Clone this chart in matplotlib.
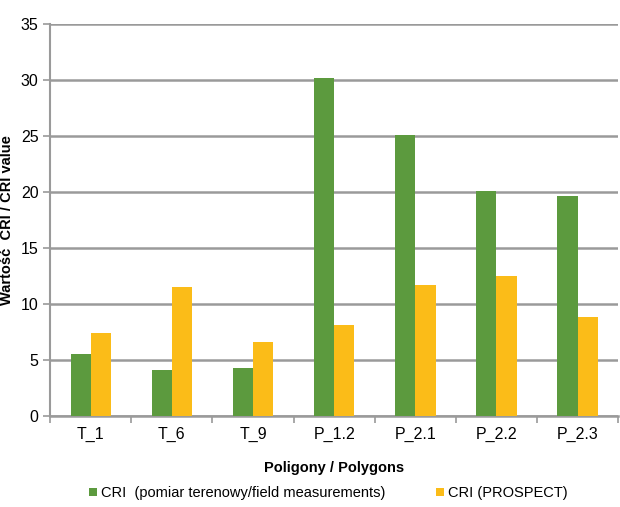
import matplotlib.pyplot as plt
import numpy as np

plt.rcParams['font.family'] = ['Liberation Sans', 'DejaVu Sans']

# Dane
polygons = ['T_1', 'T_6', 'T_9', 'P_1.2', 'P_2.1', 'P_2.2', 'P_2.3']
cri_field = [5.5, 4.1, 4.3, 30.2, 25.1, 20.1, 19.6]
cri_prospect = [7.4, 11.5, 6.6, 8.1, 11.7, 12.5, 8.8]
y_ticks = [0, 5, 10, 15, 20, 25, 30, 35]

green = '#5c9a3e'
yellow = '#fbbc18'
grid_col = '#9a9a9a'

fig = plt.figure(figsize=(6.2, 5.07), dpi=100)
ax = fig.add_axes([0.081, 0.18, 0.916, 0.773])

x = np.arange(len(polygons))
w = 0.25
ax.bar(x - w / 2, cri_field, w, color=green, zorder=3,
       label='CRI  (pomiar terenowy/field measurements)')
ax.bar(x + w / 2, cri_prospect, w, color=yellow, zorder=3,
       label='CRI (PROSPECT)')

ax.set_xlim(-0.5, len(polygons) - 0.5)
ax.set_ylim(0, 35)
ax.set_yticks(y_ticks)
ax.yaxis.grid(True, color=grid_col, linewidth=1.8, zorder=0)
ax.set_axisbelow(True)

ax.set_xticks(x)
ax.set_xticklabels(polygons, fontsize=11.5)
ax.set_xticks(np.arange(len(polygons) + 1) - 0.5, minor=True)
ax.tick_params(axis='x', which='major', length=0, pad=8)
ax.tick_params(axis='x', which='minor', length=5, color=grid_col, width=1.2)
ax.tick_params(axis='y', labelsize=11.5, length=5, color=grid_col, width=1.2)

for s in ['top', 'right']:
    ax.spines[s].set_visible(False)
ax.spines['left'].set_color(grid_col)
ax.spines['left'].set_linewidth(1.5)
ax.spines['bottom'].set_color(grid_col)
ax.spines['bottom'].set_linewidth(1.8)

ax.set_ylabel('Wartość  CRI / CRI value', fontsize=10.5, fontweight='bold', labelpad=5)
ax.set_xlabel('Poligony / Polygons', fontsize=10.5, fontweight='bold', labelpad=14)

ax.legend(loc='center', bbox_to_anchor=(0.49, -0.197), ncol=2, frameon=False,
          fontsize=10.5, handlelength=0.5, handleheight=0.5, handletextpad=0.3,
          columnspacing=3.5, borderaxespad=0)

plt.savefig('out.png', dpi=100)
